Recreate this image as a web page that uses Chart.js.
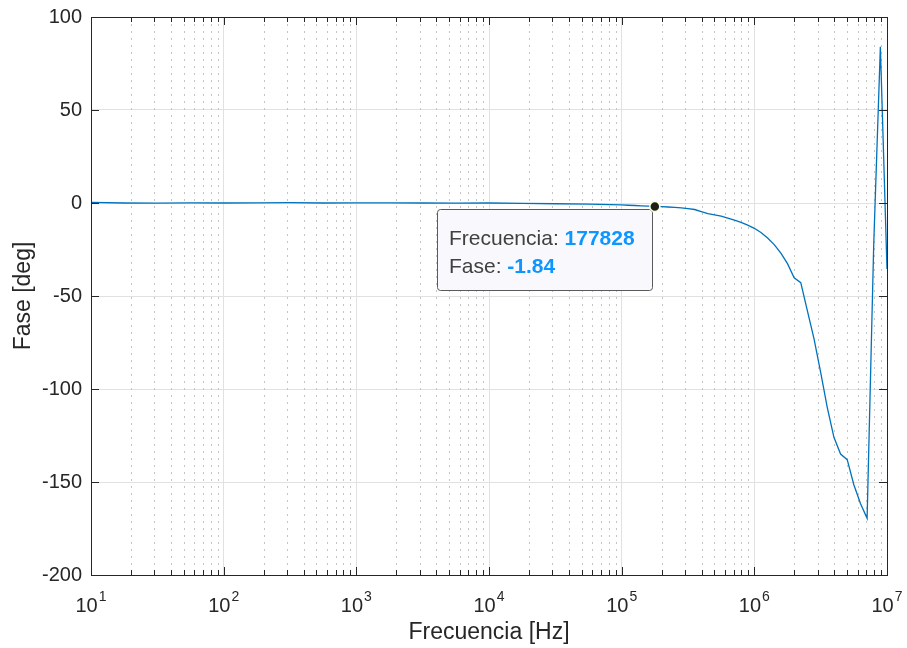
<!DOCTYPE html>
<html>
<head>
<meta charset="utf-8">
<script src="https://cdn.jsdelivr.net/npm/chart.js@4.4.1/dist/chart.umd.min.js"></script>
<style>
  html, body { margin: 0; padding: 0; background: #fff; }
</style>
</head>
<body>
<canvas id="graficoFase" width="907" height="648"></canvas>
<script>
// datos (respuesta en fase)
const frecuencias = [
    10, 17.783, 31.623, 56.234, 100, 177.83, 316.23, 562.34, 1000, 1778.3, 3162.3, 5623.4,
    10000, 17783, 31623, 56234, 100000,
    112202, 125893, 141254, 158489, 177828, 199526, 223872, 251189, 281838, 316228,
    354813, 398107, 446684, 501187, 562341, 630957, 707946, 794328, 891251, 1000000,
    1122018, 1258925, 1412538, 1584893, 1778279, 1995262, 2238721, 2511886, 2818383, 3162278,
    3548134, 3981072, 4466836, 5011872, 5623413, 6309573, 7079458, 7943282, 8912509, 10000000
];
const fase = [
    0.3, 0.0, -0.1, 0.1, 0.0, 0.1, 0.2, 0.0, 0.1, 0.1, 0.0, -0.1,
    0.0, -0.2, -0.4, -0.6, -1.0,
    -1.2, -1.35, -1.5, -1.65, -1.84, -2.0, -2.15, -2.35, -2.6, -3.0,
    -3.5, -4.6, -5.7, -6.4, -7.1, -8.1, -9.2, -10.4, -11.9, -13.6,
    -15.9, -18.8, -22.4, -27, -32.6, -40.2, -42.8, -58, -73, -91,
    -110, -126, -135, -138, -151.5, -161.5, -169.5, -22, 84, -35.5
];
const ticksY = [-200, -150, -100, -50, 0, 50, 100];
const decadas = [10, 100, 1000, 10000, 100000, 1000000, 10000000];
const exponentes = ['1', '2', '3', '4', '5', '6', '7'];
const menores = [2, 3, 4, 5, 6, 7, 8, 9];

// punto del datatip
const frecMarcada = 177828;
const faseMarcada = -1.84;

const FUENTE = '"Liberation Sans", Arial, Helvetica, sans-serif';
const COLOR_EJE = '#262626';

const puntos = frecuencias.map((f, i) => ({ x: f, y: fase[i] }));

// grilla menor punteada, marco y marcas hacia adentro, etiquetas 10^n, titulos y datatip
const estiloMatlab = {
    id: 'estiloMatlab',
    beforeDatasetsDraw(chart) {
        const { ctx, chartArea: a, scales: { x } } = chart;
        ctx.save();
        ctx.strokeStyle = '#c4c4c4';
        ctx.lineWidth = 1;
        ctx.setLineDash([2, 5]);
        decadas.slice(0, -1).forEach(d => {
            menores.forEach(m => {
                const px = Math.round(x.getPixelForValue(d * m)) + 0.5;
                ctx.beginPath();
                ctx.moveTo(px, a.top);
                ctx.lineTo(px, a.bottom);
                ctx.stroke();
            });
        });
        ctx.restore();
    },
    afterDatasetsDraw(chart) {
        const { ctx, chartArea: a, scales: { x, y } } = chart;
        ctx.save();
        ctx.strokeStyle = COLOR_EJE;
        ctx.lineWidth = 1;
        ctx.strokeRect(Math.round(a.left) + 0.5, Math.round(a.top) + 0.5,
            Math.round(a.right - a.left), Math.round(a.bottom - a.top));

        ctx.beginPath();
        decadas.forEach((d, i) => {
            const px = Math.round(x.getPixelForValue(d)) + 0.5;
            ctx.moveTo(px, a.bottom); ctx.lineTo(px, a.bottom - 8);
            ctx.moveTo(px, a.top); ctx.lineTo(px, a.top + 8);
            if (i < decadas.length - 1) {
                menores.forEach(m => {
                    const pm = Math.round(x.getPixelForValue(d * m)) + 0.5;
                    ctx.moveTo(pm, a.bottom); ctx.lineTo(pm, a.bottom - 5);
                    ctx.moveTo(pm, a.top); ctx.lineTo(pm, a.top + 5);
                });
            }
        });
        ticksY.forEach(v => {
            const py = Math.round(y.getPixelForValue(v)) + 0.5;
            ctx.moveTo(a.left, py); ctx.lineTo(a.left + 8, py);
            ctx.moveTo(a.right, py); ctx.lineTo(a.right - 8, py);
        });
        ctx.stroke();

        // etiquetas del eje x con exponente
        ctx.fillStyle = COLOR_EJE;
        ctx.textBaseline = 'alphabetic';
        ctx.textAlign = 'left';
        decadas.forEach((d, i) => {
            const px = x.getPixelForValue(d);
            ctx.font = '20px ' + FUENTE;
            const wBase = ctx.measureText('10').width;
            ctx.font = '14px ' + FUENTE;
            const wExp = ctx.measureText(exponentes[i]).width;
            const x0 = px - (wBase + wExp + 1) / 2;
            ctx.font = '20px ' + FUENTE;
            ctx.fillText('10', x0, 612);
            ctx.font = '14px ' + FUENTE;
            ctx.fillText(exponentes[i], x0 + wBase + 1, 601);
        });

        // titulos de ejes
        ctx.font = '23px ' + FUENTE;
        ctx.textAlign = 'center';
        ctx.textBaseline = 'middle';
        ctx.fillText('Frecuencia [Hz]', (a.left + a.right) / 2, 633);
        ctx.save();
        ctx.translate(24, (a.top + a.bottom) / 2);
        ctx.rotate(-Math.PI / 2);
        ctx.fillText('Fase [deg]', 0, 0);
        ctx.restore();

        // datatip
        const mx = x.getPixelForValue(frecMarcada);
        const my = y.getPixelForValue(faseMarcada);
        const bx = 437, by = 209, bw = 215, bh = 81;
        ctx.beginPath();
        ctx.roundRect(bx + 0.5, by + 0.5, bw, bh, 3);
        ctx.fillStyle = '#f9f9fd';
        ctx.fill();
        ctx.strokeStyle = '#5a5a5a';
        ctx.stroke();

        ctx.textAlign = 'left';
        ctx.textBaseline = 'alphabetic';
        const filas = [['Frecuencia: ', String(frecMarcada), 245], ['Fase: ', faseMarcada.toFixed(2), 273]];
        filas.forEach(([et, val, base]) => {
            ctx.font = '21px ' + FUENTE;
            ctx.fillStyle = '#404040';
            ctx.fillText(et, 449, base);
            const w = ctx.measureText(et).width;
            ctx.font = 'bold 21px ' + FUENTE;
            ctx.fillStyle = '#0d96ff';
            ctx.fillText(val, 449 + w, base);
        });

        ctx.beginPath();
        ctx.arc(mx, my, 5, 0, Math.PI * 2);
        ctx.fillStyle = '#1e1e1e';
        ctx.fill();
        ctx.lineWidth = 1.5;
        ctx.strokeStyle = '#ffffd0';
        ctx.stroke();
        ctx.restore();
    }
};

new Chart(document.getElementById('graficoFase'), {
    type: 'line',
    data: {
        datasets: [{
            data: puntos,
            borderColor: '#0072BD',
            borderWidth: 1.3,
            pointRadius: 0,
            tension: 0,
            fill: false
        }]
    },
    options: {
        responsive: false,
        animation: false,
        devicePixelRatio: 1,
        layout: { padding: { left: 0, right: 20, top: 17, bottom: 0 } },
        plugins: { legend: { display: false }, tooltip: { enabled: false } },
        scales: {
            x: {
                type: 'logarithmic',
                min: 10,
                max: 10000000,
                afterBuildTicks: s => { s.ticks = decadas.map(v => ({ value: v })); },
                afterFit: s => { s.height = 73; s.paddingLeft = 0; s.paddingRight = 0; },
                ticks: { display: false },
                grid: { color: '#e1e1e1', lineWidth: 1, drawTicks: false },
                border: { display: false }
            },
            y: {
                min: -200,
                max: 100,
                afterBuildTicks: s => { s.ticks = ticksY.map(v => ({ value: v })); },
                afterFit: s => { s.width = 91; s.paddingTop = 0; s.paddingBottom = 0; },
                ticks: {
                    color: COLOR_EJE,
                    padding: 9,
                    font: { size: 20, family: FUENTE }
                },
                grid: { color: '#e1e1e1', lineWidth: 1, drawTicks: false },
                border: { display: false }
            }
        }
    },
    plugins: [estiloMatlab]
});
</script>
</body>
</html>
